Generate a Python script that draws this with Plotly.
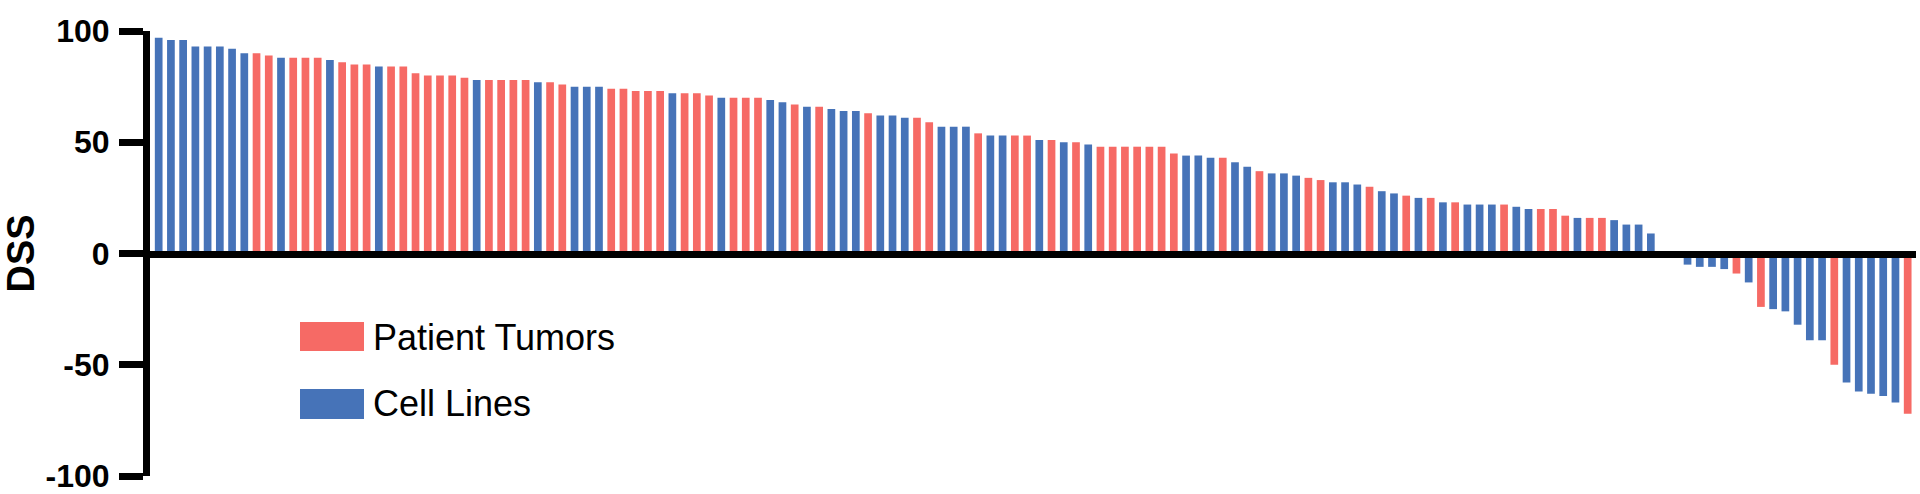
import plotly.graph_objects as go

# DSS por amostra, ordenado do maior para o menor
dss = [97, 96, 96, 93, 93, 93, 92, 90, 90, 89,
       88, 88, 88, 88, 87, 86, 85, 85, 84, 84,
       84, 81, 80, 80, 80, 79, 78, 78, 78, 78,
       78, 77, 77, 76, 75, 75, 75, 74, 74, 73,
       73, 73, 72, 72, 72, 71, 70, 70, 70, 70,
       69, 68, 67, 66, 66, 65, 64, 64, 63, 62,
       62, 61, 61, 59, 57, 57, 57, 54, 53, 53,
       53, 53, 51, 51, 50, 50, 49, 48, 48, 48,
       48, 48, 48, 45, 44, 44, 43, 43, 41, 39,
       37, 36, 36, 35, 34, 33, 32, 32, 31, 30,
       28, 27, 26, 25, 25, 23, 23, 22, 22, 22,
       22, 21, 20, 20, 20, 17, 16, 16, 16, 15,
       13, 13, 9, -2, -2, -5, -6, -6, -7, -9,
       -13, -24, -25, -26, -32, -39, -39, -50, -58, -62,
       -63, -64, -67, -72]
# T = Patient Tumors, C = Cell Lines
grupo = list("CCCCCCCCTT"
             "CTTTCTTTCT"
             "TTTTTTCTTT"
             "TCTTCCCTTT"
             "TTCTTTCTTT"
             "CCTCTCCCTC"
             "CCTTCCCTCC"
             "TTCTCTCTTT"
             "TTTTCCCTCC"
             "TCCCTTCCCT"
             "CCTCTCTCCC"
             "TCCTTTCTTC"
             "CCCCCCCCCT"
             "CTCCCCCTCC"
             "CCCT")
nomes = {'T': 'Patient Tumors', 'C': 'Cell Lines'}
cores = {'T': '#F66A65', 'C': '#4673B8'}
yticks = [-100, -50, 0, 50, 100]
yticks_txt = ['-100', '-50', '0', '50', '100']

fonte = 'Liberation Sans, Arial, sans-serif'
W, H = 1920, 494
ml, mr, mt, mb = 150, 4, 31, 18
pw, ph = W - ml - mr, H - mt - mb


def px(x):
    return (x - ml) / pw


def py(y):
    return (H - mb - y) / ph


idx = list(range(len(dss)))
fig = go.Figure()
fig.add_trace(go.Bar(x=idx, y=dss, marker_color=[cores[g] for g in grupo],
                     marker_line_width=0, showlegend=False))

fig.update_layout(
    width=W, height=H, margin=dict(l=ml, r=mr, t=mt, b=mb, autoexpand=False),
    paper_bgcolor='white', plot_bgcolor='white', bargap=0.37,
    font=dict(family=fonte, color='black'),
)
fig.update_xaxes(range=[-0.71, 143.68], showline=True, linecolor='black', linewidth=7,
                 anchor='free', position=0.5, showticklabels=False, ticks='',
                 showgrid=False, zeroline=False, automargin=False)
fig.update_yaxes(range=[-100, 100], tickvals=yticks, ticktext=yticks_txt, showline=True,
                 linecolor='black', linewidth=7, ticks='outside', ticklen=24, tickwidth=7,
                 tickcolor='black', tickfont=dict(size=32, family=fonte, weight='bold'),
                 ticklabelstandoff=3, ticklabeloverflow='allow',
                 showgrid=False, zeroline=False, automargin=False)

# titulo do eixo y
fig.add_annotation(text='<b>DSS</b>', xref='paper', yref='paper', x=px(20), y=0.5,
                   textangle=-90, showarrow=False, xanchor='center', yanchor='middle',
                   font=dict(size=38, family=fonte))

# legenda manual
legenda = [('T', 322, 351, 337), ('C', 389, 419, 403)]
for g, y0, y1, yc in legenda:
    fig.add_shape(type='rect', xref='paper', yref='paper', x0=px(300), x1=px(364),
                  y0=py(y1), y1=py(y0), fillcolor=cores[g], line_width=0)
    fig.add_annotation(text=nomes[g], xref='paper', yref='paper', x=px(371), y=py(yc),
                       showarrow=False, xanchor='left', yanchor='middle',
                       font=dict(size=36, family=fonte))

# tira a margem padrao do body para a figura ocupar a janela toda
fig.write_html("out.html", config={'displayModeBar': False},
               post_script="document.body.style.margin='0';")
